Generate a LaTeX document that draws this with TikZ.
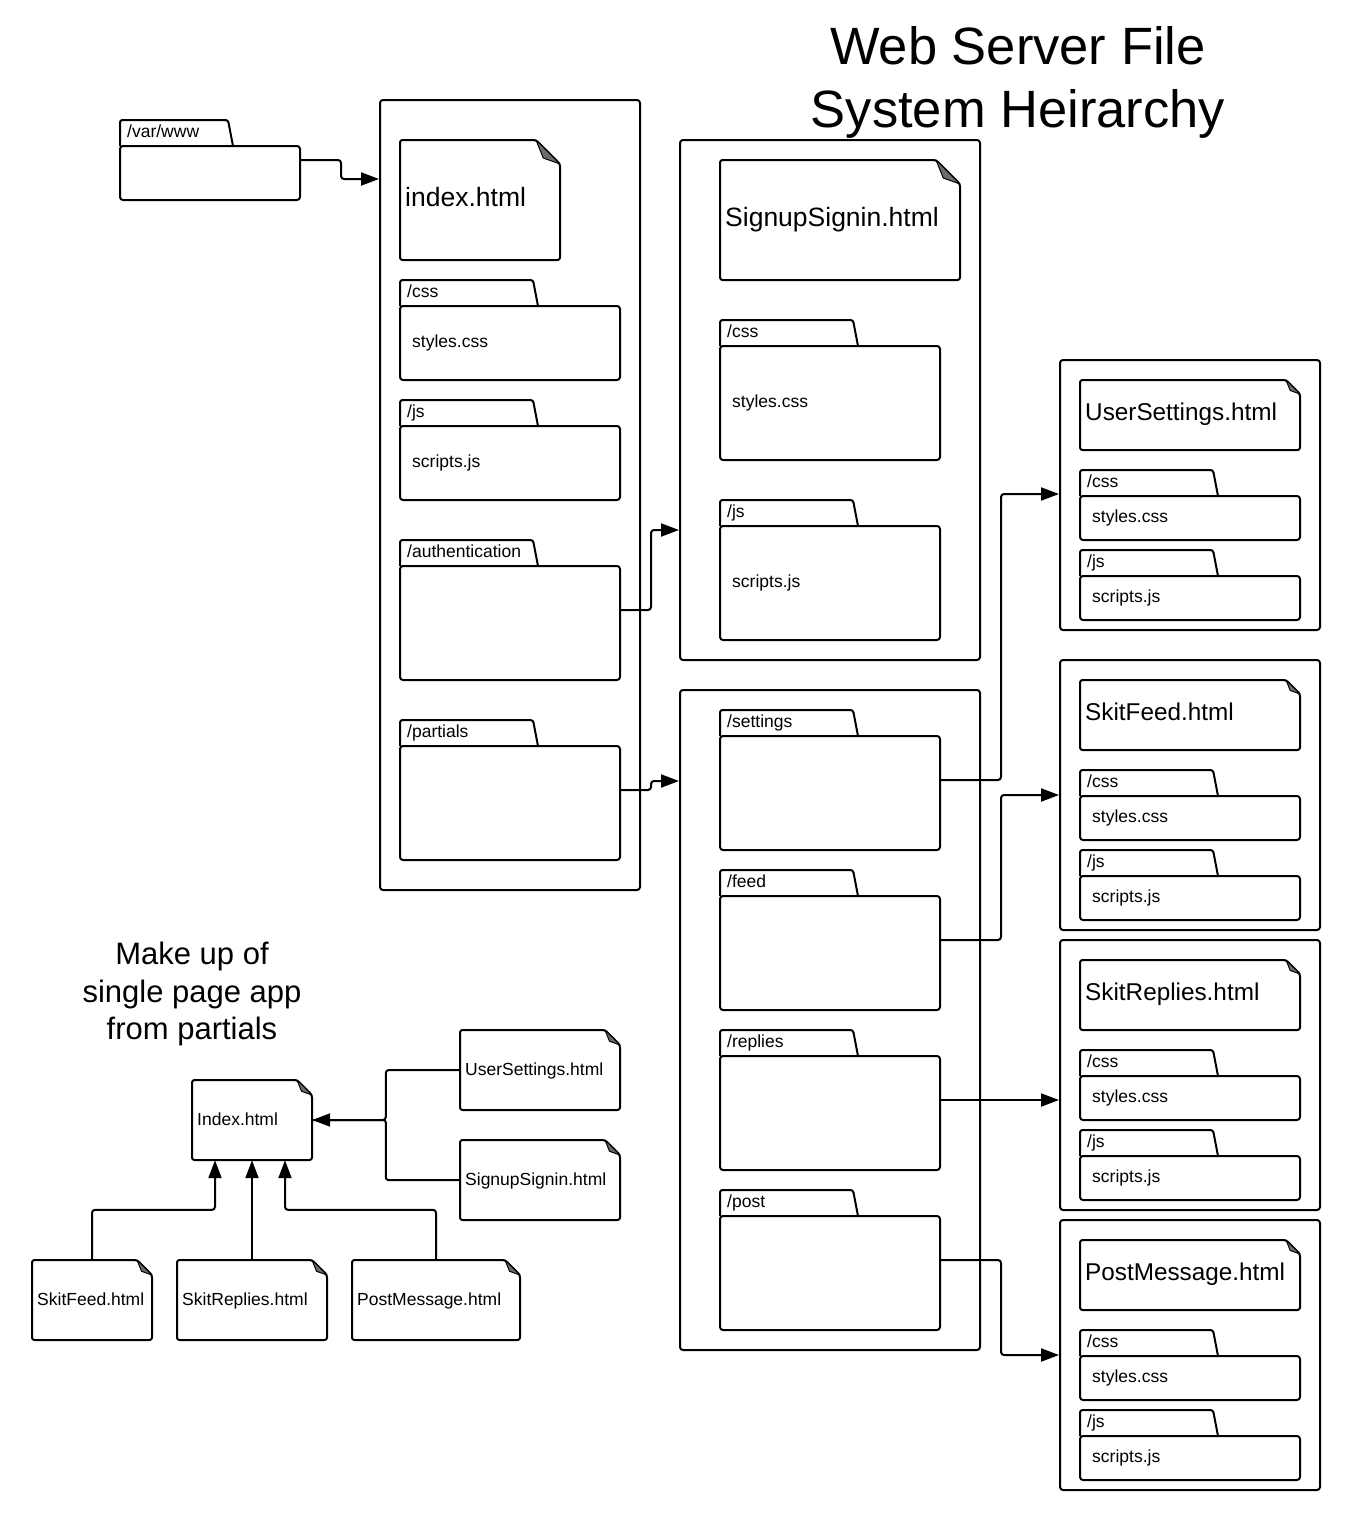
\documentclass[tikz,border=0pt]{standalone}
\usepackage{fontspec}
\setmainfont{Liberation Sans}
\usetikzlibrary{arrows.meta}

\newcommand{\titlef}{\fontsize{52.5}{63}\selectfont}
\newcommand{\notef}{\fontsize{31}{37.5}\selectfont}
\newcommand{\bigf}{\fontsize{26.5}{30}\selectfont}
\newcommand{\medf}{\fontsize{24.3}{29}\selectfont}
\newcommand{\smallf}{\fontsize{17.5}{21}\selectfont}

% folder: name, x1, tab top, x2, y2, tab width, label, content
\newcommand{\folder}[8]{%
  \draw[outl] (#2,{#3+26}) -- (#2,#3) -- ({#2+#6},#3) -- ({#2+#6+5},{#3+26});
  \node[fbody, minimum width={#4-#2}, minimum height={#5-#3-26}] (#1) at ({(#2+#4)/2},{(#3+26+#5)/2}) {};
  \node[flabel] (#1-lbl) at ({#2+7},{#3+17}) {#7};
  \node[ftext] (#1-txt) at ({#2+12},{(#3+26+#5)/2+4}) {#8};
}
% file: name, x1, y1, x2, y2, fold, text style, text
\newcommand{\docfile}[8]{%
  \draw[outl] (#2,#3) -- ({#4-#6},#3) -- (#4,{#3+#6}) -- (#4,#5) -- (#2,#5) -- cycle;
  \filldraw[fold] ({#4-#6},#3) -- (#4,{#3+#6}) -- ({#4-0.7*#6},{#3+0.75*#6}) -- cycle;
  \node[minimum width={#4-#2}, minimum height={#5-#3}] (#1) at ({(#2+#4)/2},{(#3+#5)/2}) {};
  \node[#7] (#1-txt) at ({#2+5},{(#3+#5)/2}) {#8};
}

\begin{document}
\begin{tikzpicture}[x=1pt,y=-1pt]
	\tikzstyle{every node}+=[inner sep=0pt]
	\tikzstyle{outl}=[draw=black, line width=2pt, rounded corners=2.5pt]
	\tikzstyle{box}=[draw=black, line width=2pt, rounded corners=3pt]
	\tikzstyle{fbody}=[draw=black, line width=2pt, rounded corners=3pt]
	\tikzstyle{flabel}=[font=\smallf, anchor=base west]
	\tikzstyle{ftext}=[font=\smallf, anchor=base west]
	\tikzstyle{bigtxt}=[font=\bigf, anchor=base west, yshift=-6pt]
	\tikzstyle{medtxt}=[font=\medf, anchor=base west, yshift=-5.5pt]
	\tikzstyle{smalltxt}=[font=\smallf, anchor=base west, yshift=-5pt]
	\tikzstyle{fold}=[fill=black!58, draw=black, line width=1pt, line join=round]
	\tikzstyle{conn}=[draw=black, line width=2pt, rounded corners=3pt, -{Triangle[length=18pt,width=13pt]}]
	\useasboundingbox (0,0) rectangle (1360,1520);

	\node[font=\titlef, align=center] (title) at (1018,82) {Web Server File\\System Heirarchy};
	\node[font=\notef, align=center] (note) at (192,994) {Make up of\\single page app\\from partials};

	% root
	\folder{varwww}{120}{120}{300}{200}{108}{/var/www}{}

	% web root
	\node[box, minimum width=260, minimum height=790] (cA) at (510,495) {};
	\docfile{index}{400}{140}{560}{260}{24}{bigtxt}{index.html}
	\folder{cssA}{400}{280}{620}{380}{133}{/css}{styles.css}
	\folder{jsA}{400}{400}{620}{500}{133}{/js}{scripts.js}
	\folder{auth}{400}{540}{620}{680}{133}{/authentication}{}
	\folder{partials}{400}{720}{620}{860}{133}{/partials}{}

	% authentication
	\node[box, minimum width=300, minimum height=520] (cB) at (830,400) {};
	\docfile{signup}{720}{160}{960}{280}{24}{bigtxt}{SignupSignin.html}
	\folder{cssB}{720}{320}{940}{460}{133}{/css}{styles.css}
	\folder{jsB}{720}{500}{940}{640}{133}{/js}{scripts.js}

	% partials
	\node[box, minimum width=300, minimum height=660] (cC) at (830,1020) {};
	\folder{settings}{720}{710}{940}{850}{133}{/settings}{}
	\folder{feed}{720}{870}{940}{1010}{133}{/feed}{}
	\folder{replies}{720}{1030}{940}{1170}{133}{/replies}{}
	\folder{post}{720}{1190}{940}{1330}{133}{/post}{}

	% settings
	\node[box, minimum width=260, minimum height=270] (cD1) at (1190,495) {};
	\docfile{usD}{1080}{380}{1300}{450}{14}{medtxt}{UserSettings.html}
	\folder{cssD1}{1080}{470}{1300}{540}{133}{/css}{styles.css}
	\folder{jsD1}{1080}{550}{1300}{620}{133}{/js}{scripts.js}

	% feed
	\node[box, minimum width=260, minimum height=270] (cD2) at (1190,795) {};
	\docfile{sfD}{1080}{680}{1300}{750}{14}{medtxt}{SkitFeed.html}
	\folder{cssD2}{1080}{770}{1300}{840}{133}{/css}{styles.css}
	\folder{jsD2}{1080}{850}{1300}{920}{133}{/js}{scripts.js}

	% replies
	\node[box, minimum width=260, minimum height=270] (cD3) at (1190,1075) {};
	\docfile{srD}{1080}{960}{1300}{1030}{14}{medtxt}{SkitReplies.html}
	\folder{cssD3}{1080}{1050}{1300}{1120}{133}{/css}{styles.css}
	\folder{jsD3}{1080}{1130}{1300}{1200}{133}{/js}{scripts.js}

	% post
	\node[box, minimum width=260, minimum height=270] (cD4) at (1190,1355) {};
	\docfile{pmD}{1080}{1240}{1300}{1310}{14}{medtxt}{PostMessage.html}
	\folder{cssD4}{1080}{1330}{1300}{1400}{133}{/css}{styles.css}
	\folder{jsD4}{1080}{1410}{1300}{1480}{133}{/js}{scripts.js}

	\draw[conn] (varwww.east |- 0,160) -- ++(40,0) |- (cA.west |- 0,179);
	\draw[conn] (auth.east |- 0,610) -- ++(30,0) |- (cB.west |- 0,530);
	\draw[conn] (partials.east |- 0,790) -- ++(30,0) |- (cC.west |- 0,781);
	\draw[conn] (settings.east |- 0,780) -- ++(60,0) |- (cD1.west |- 0,494);
	\draw[conn] (feed.east |- 0,940) -- ++(60,0) |- (cD2.west |- 0,795);
	\draw[conn] (replies.east |- 0,1100) -- (cD3.west |- 0,1100);
	\draw[conn] (post.east |- 0,1260) -- ++(60,0) |- (cD4.west |- 0,1355);

	% single page app
	\docfile{idx}{192}{1080}{312}{1160}{15}{smalltxt}{Index.html}
	\docfile{us}{460}{1030}{620}{1110}{15}{smalltxt}{UserSettings.html}
	\docfile{sg}{460}{1140}{620}{1220}{15}{smalltxt}{SignupSignin.html}
	\docfile{sf}{32}{1260}{152}{1340}{15}{smalltxt}{SkitFeed.html}
	\docfile{sr}{177}{1260}{327}{1340}{15}{smalltxt}{SkitReplies.html}
	\docfile{pm}{352}{1260}{520}{1340}{15}{smalltxt}{PostMessage.html}

	\draw[conn] (us.west) -- ++(-74,0) |- (idx.east);
	\draw[outl] (sg.west) -- ++(-74,0) |- (idx.east);
	\draw[conn] (sf.north) -- ++(0,-50) -| ([xshift=-37pt]idx.south);
	\draw[conn] (sr.north) -- (idx.south);
	\draw[conn] (pm.north) -- ++(0,-50) -| ([xshift=33pt]idx.south);
\end{tikzpicture}
\end{document}
